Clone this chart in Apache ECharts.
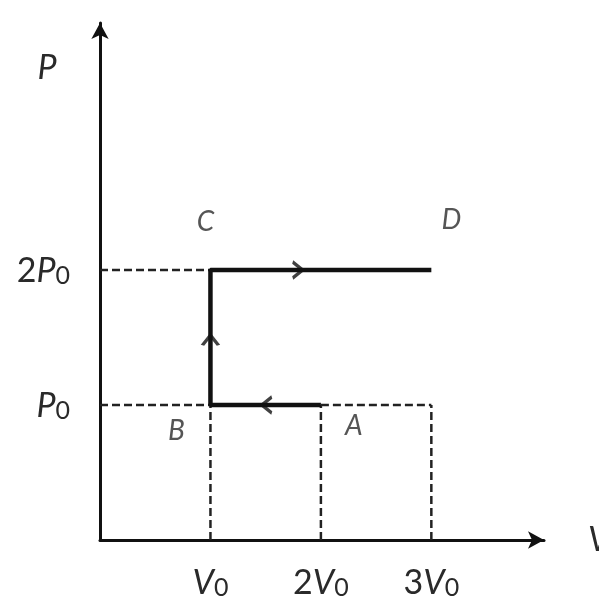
<!DOCTYPE html>
<html>
<head>
<meta charset="utf-8">
<script src="https://cdn.jsdelivr.net/npm/echarts@6/dist/echarts.min.js"></script>
<style>
  html, body { margin: 0; padding: 0; background: #fff; }
  #chart { width: 599px; height: 599px; }
</style>
</head>
<body>
<div id="chart"></div>
<script>
// tick positions (in units of V0 / P0) and their labels
const vTicks = [1, 2, 3]
const vTickLabels = ['{i|V}{s|0}', '{d|2}{i|V}{s|0}', '{d|3}{i|V}{s|0}']
const pTicks = [1, 2]
const pTickLabels = ['{i|P}{s|0}', '{d|2}{i|P}{s|0}']

// the process A -> B -> C -> D
const pointNames = ['A', 'B', 'C', 'D']
const cycleV = [2, 1, 1, 3]
const cycleP = [1, 1, 2, 2]

// dashed guide lines
const guideFromV = [0, 0, 2, 1, 2, 3]
const guideFromP = [2, 1, 1, 0, 0, 0]
const guideToV = [1, 1, 3, 1, 2, 3]
const guideToP = [2, 1, 1, 1, 1, 1]

// direction arrows on the path
const arrowV = [1.51, 1, 1.79]
const arrowP = [1, 1.48, 2]
const arrowAngle = [180, 90, 0]

const labelOffsets = [[33, 21], [-34, 26], [-5, -48], [20, -50]]

const textColor = '#2a2a2a'
const lineColor = '#111'
const fontFamily = 'Lato'

const richStyle = {
  d: { fontSize: 34, fontFamily: fontFamily, color: textColor, lineHeight: 36, verticalAlign: 'bottom' },
  i: { fontSize: 34, fontFamily: fontFamily, fontStyle: 'italic', color: textColor, lineHeight: 36, verticalAlign: 'bottom' },
  s: { fontSize: 25, fontFamily: fontFamily, color: textColor, lineHeight: 36, verticalAlign: 'bottom' }
}

function tickFormatter(ticks, labels) {
  return function (value) {
    const idx = ticks.indexOf(Math.round(value * 1000) / 1000)
    return idx >= 0 ? labels[idx] : ''
  }
}

const guideSeries = guideFromV.map(function (v, i) {
  return {
    type: 'line',
    silent: true,
    symbol: 'none',
    lineStyle: { color: '#222', width: 2.5, type: [8, 4] },
    data: [[v, guideFromP[i]], [guideToV[i], guideToP[i]]]
  }
})

const chart = echarts.init(document.getElementById('chart'))

chart.setOption({
  backgroundColor: '#fff',
  animation: false,
  grid: { left: 100, top: 23, right: 55, bottom: 59, outerBoundsMode: 'none', containLabel: false },
  xAxis: {
    type: 'value',
    min: 0,
    max: 4.02,
    interval: 1,
    name: 'V',
    nameLocation: 'end',
    nameGap: 44,
    nameTextStyle: { fontSize: 34, fontFamily: fontFamily, fontStyle: 'italic', color: textColor, padding: [0, 0, 30, 0] },
    axisLine: { lineStyle: { color: lineColor, width: 3 }, symbol: ['none', 'arrow'], symbolSize: [13, 16] },
    axisTick: { show: false },
    splitLine: { show: false },
    axisLabel: {
      margin: 24,
      showMaxLabel: false,
      formatter: tickFormatter(vTicks, vTickLabels),
      rich: richStyle
    }
  },
  yAxis: {
    type: 'value',
    min: 0,
    max: 3.83,
    interval: 1,
    name: 'P',
    nameLocation: 'end',
    nameGap: -45,
    nameTextStyle: { fontSize: 34, fontFamily: fontFamily, fontStyle: 'italic', color: textColor, align: 'center', verticalAlign: 'middle', padding: [0, 106, 0, 0] },
    axisLine: { lineStyle: { color: lineColor, width: 3 }, symbol: ['none', 'arrow'], symbolSize: [13, 16] },
    axisTick: { show: false },
    splitLine: { show: false },
    axisLabel: {
      margin: 30,
      showMaxLabel: false,
      formatter: tickFormatter(pTicks, pTickLabels),
      rich: richStyle
    }
  },
  series: guideSeries.concat([
    {
      type: 'line',
      silent: true,
      symbol: 'none',
      lineStyle: { color: lineColor, width: 4.5 },
      data: cycleV.map(function (v, i) { return [v, cycleP[i]] })
    },
    {
      type: 'scatter',
      silent: true,
      symbol: 'path://M0,0 L10,10 L0,20',
      symbolSize: [10, 16],
      itemStyle: { color: 'none', borderColor: lineColor, borderWidth: 3 },
      data: arrowV.map(function (v, i) {
        return { value: [v, arrowP[i]], symbolRotate: arrowAngle[i] }
      })
    },
    {
      type: 'scatter',
      silent: true,
      symbolSize: 0,
      data: cycleV.map(function (v, i) {
        return {
          value: [v, cycleP[i]],
          label: {
            show: true,
            position: 'inside',
            offset: labelOffsets[i],
            formatter: pointNames[i],
            fontSize: 28,
            fontFamily: fontFamily,
            fontStyle: 'italic',
            color: textColor
          }
        }
      })
    }
  ])
})
</script>
</body>
</html>
